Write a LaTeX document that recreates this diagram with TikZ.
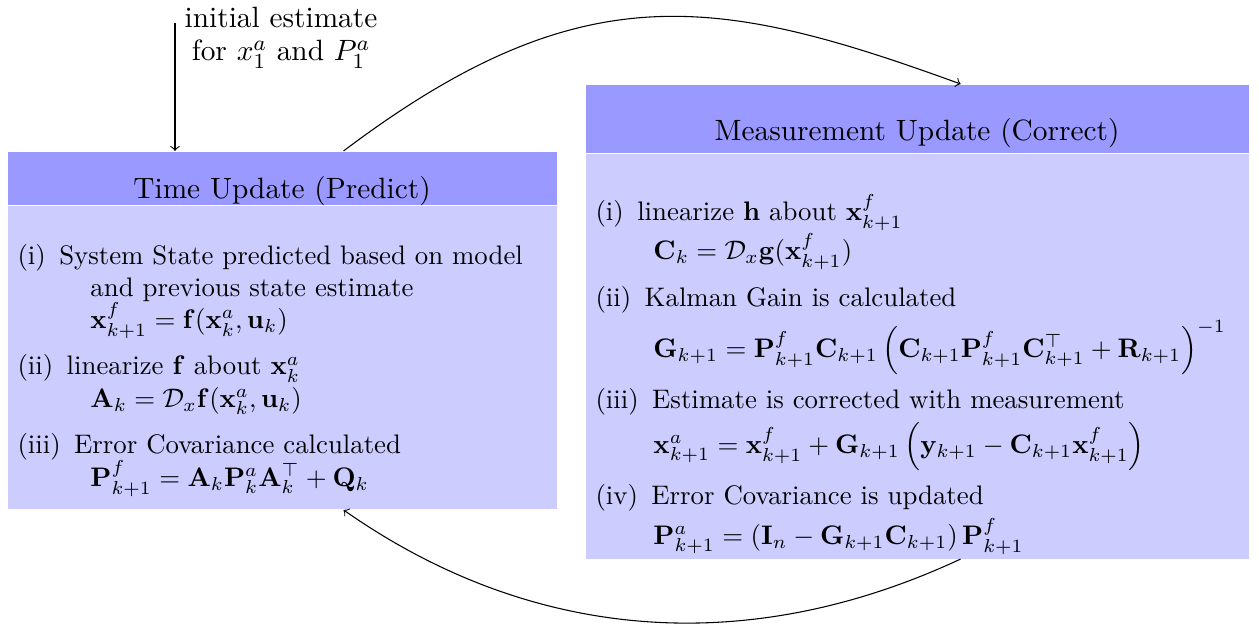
\documentclass[tikz,border=0pt]{standalone}
\usepackage{amsmath,amssymb}
\usetikzlibrary{positioning}

\newcommand{\lbl}[1]{#1\hspace{5pt}}
\newcommand{\titlesize}{\fontsize{10.95pt}{12.3pt}\selectfont}

\begin{document}
\begin{tikzpicture}[>=to,
	head/.style={fill=blue!40, inner sep=0pt, align=center, font=\titlesize},
	body/.style={fill=blue!20, inner ysep=0pt, inner xsep=3.73pt, align=left,
		execute at begin node={\lineskiplimit=-\maxdimen}}]
	\useasboundingbox (0,0) rectangle (16.504,-8.193);
	% time update box
	\node[head, anchor=north west, minimum width=7.197cm, text height=17.5pt, text depth=2.6pt] (tuhead) at (0.092,-1.979) {Time Update (Predict)};
	\node[body, below=0pt of tuhead, text width=7.197cm-7.46pt, text height=21.6pt, text depth=91.4pt] (tubody) {%
		\lbl{(i)}System State predicted based on model\\
		\hspace*{27.2pt}and previous state estimate\\
		\hspace*{27.2pt}\mbox{$\mathbf{x}^f_{k+1}=\mathbf{f}(\mathbf{x}^a_k,\mathbf{u}_k)$}\\[5.2pt]
		\lbl{(ii)}linearize $\mathbf{f}$ about $\mathbf{x}^a_k$\\
		\hspace*{27.2pt}\mbox{$\mathbf{A}_k=\mathcal{D}_x\mathbf{f}(\mathbf{x}^a_k,\mathbf{u}_k)$}\\[5.5pt]
		\lbl{(iii)}Error Covariance calculated\\
		\hspace*{27.2pt}\mbox{$\mathbf{P}^f_{k+1}=\mathbf{A}_k\mathbf{P}^a_k\mathbf{A}_k^\top+\mathbf{Q}_k$}};
	% measurement update box
	\node[head, anchor=north west, minimum width=8.691cm, text height=21.0pt, text depth=4.7pt] (muhead) at (7.669,-1.101) {Measurement Update (Correct)};
	\node[body, below=0pt of muhead, text width=8.691cm-7.46pt, text height=24.6pt, text depth=126.1pt] (mubody) {%
		\lbl{(i)}linearize $\mathbf{h}$ about $\mathbf{x}^f_{k+1}$\\[2.5pt]
		\hspace*{21.6pt}\mbox{$\mathbf{C}_k=\mathcal{D}_x\mathbf{g}(\mathbf{x}^f_{k+1})$}\\[5.5pt]
		\lbl{(ii)}Kalman Gain is calculated\\[7pt]
		\hspace*{21.6pt}\mbox{$\mathbf{G}_{k+1}=\mathbf{P}^f_{k+1}\mathbf{C}_{k+1}\left(\mathbf{C}_{k+1}\mathbf{P}^f_{k+1}\mathbf{C}^\top_{k+1}+\mathbf{R}_{k+1}\right)^{-1}$}\\[7pt]
		\lbl{(iii)}Estimate is corrected with measurement\\[4.8pt]
		\hspace*{21.6pt}\mbox{$\mathbf{x}^a_{k+1}=\mathbf{x}^f_{k+1}+\mathbf{G}_{k+1}\left(\mathbf{y}_{k+1}-\mathbf{C}_{k+1}\mathbf{x}^f_{k+1}\right)$}\\[7pt]
		\lbl{(iv)}Error Covariance is updated\\[2.9pt]
		\hspace*{21.6pt}\mbox{$\mathbf{P}^a_{k+1}=\left(\mathbf{I}_n-\mathbf{G}_{k+1}\mathbf{C}_{k+1}\right)\mathbf{P}^f_{k+1}$}};
	% initial estimate
	\node[align=center, font=\titlesize] (init) at (3.684,-0.498) {initial estimate\\ for $x_1^a$ and $P_1^a$};
	\coordinate (initsrc) at (2.294,-0.302);
	\draw[->] (initsrc) -- (initsrc |- tuhead.north);
	% loop
	\draw[->] ([xshift=0.806cm]tuhead.north) .. controls +(37:3.9cm) and +(160:3.4cm) .. ([xshift=0.570cm]muhead.north);
	\draw[->] ([xshift=0.570cm]mubody.south) .. controls +(205:3.05cm) and +(-35:3.05cm) .. ([xshift=0.806cm]tubody.south);
\end{tikzpicture}
\end{document}
